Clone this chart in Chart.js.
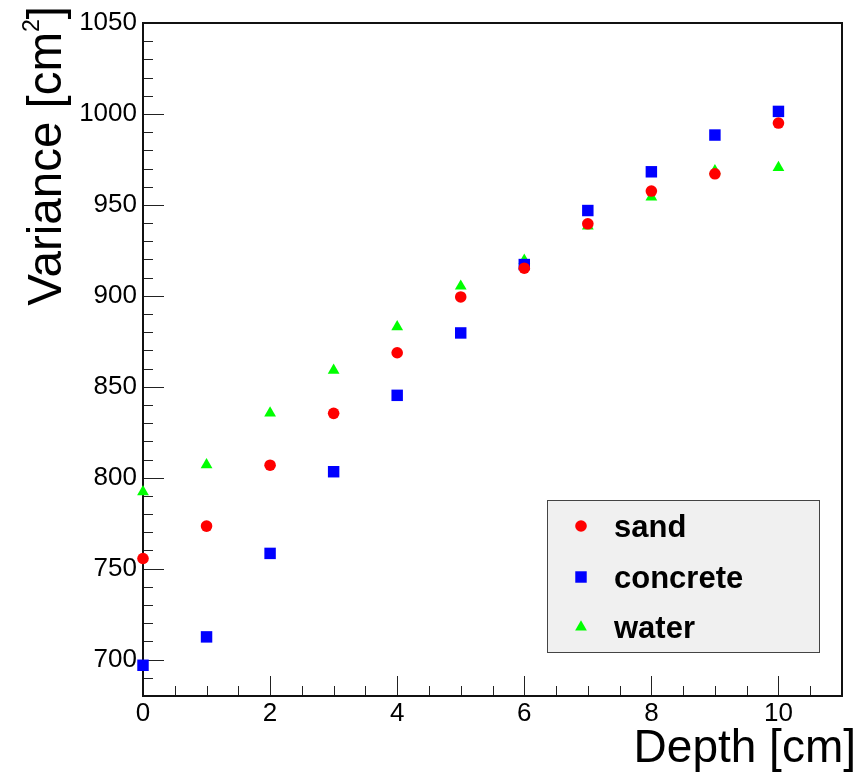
<!DOCTYPE html>
<html>
<head>
<meta charset="utf-8">
<script src="https://cdn.jsdelivr.net/npm/chart.js@4/dist/chart.umd.min.js"></script>
<style>
  body { margin: 0; background: #fff; }
  #wrap { width: 866px; height: 774px; position: relative; }
</style>
</head>
<body>
<div id="wrap"><canvas id="myChart"></canvas></div>
<script>
// values
var depth = [0, 1, 2, 3, 4, 5, 6, 7, 8, 9, 10];
var sand = [755.6, 773.4, 806.9, 835.4, 868.7, 899.4, 915.2, 939.6, 957.6, 967.1, 995.0];
var concrete = [696.9, 712.5, 758.4, 803.3, 845.3, 879.6, 917.2, 946.9, 968.2, 988.4, 1001.4];
var water = [792.3, 807.1, 835.5, 859.1, 883.0, 905.3, 919.5, 938.3, 954.3, 968.7, 970.5];

var series_names = ["sand", "concrete", "water"];
var x_ticks = [0, 2, 4, 6, 8, 10];
var y_ticks = [700, 750, 800, 850, 900, 950, 1000, 1050];

var FONT = "'Liberation Sans', Arial, Helvetica, sans-serif";

var styles = {
  sand: {color: '#ff0000', shape: 'circle', r: 5.8},
  concrete: {color: '#0000ff', shape: 'rect', r: 8.1},
  water: {color: '#00ff00', shape: 'triangle', r: 6.8}
};

function to_points(values) {
  return depth.map(function(d, i) { return {x: d, y: values[i]}; });
}

function make_dataset(name, values) {
  var s = styles[name];
  return {
    label: name,
    data: to_points(values),
    pointStyle: s.shape,
    pointRadius: s.r,
    pointHoverRadius: s.r,
    pointBackgroundColor: s.color,
    pointBorderColor: s.color,
    pointBorderWidth: 0,
    showLine: false,
    clip: false
  };
}

function draw_marker(ctx, shape, x, y, r, color) {
  ctx.fillStyle = color;
  ctx.beginPath();
  if(shape == 'circle') {
    ctx.arc(x, y, r, 0, Math.PI * 2);
  }
  else if(shape == 'rect') {
    var h = r * Math.SQRT1_2;
    ctx.rect(x - h, y - h, 2 * h, 2 * h);
  }
  else {
    ctx.moveTo(x, y - r);
    ctx.lineTo(x + r * Math.sin(Math.PI * 2 / 3), y + r / 2);
    ctx.lineTo(x - r * Math.sin(Math.PI * 2 / 3), y + r / 2);
    ctx.closePath();
  }
  ctx.fill();
}

// ROOT style frame with ticks pointing inward
var frame_plugin = {
  id: 'frame',
  beforeDatasetsDraw: function(chart) {
    var ctx = chart.ctx;
    var a = chart.chartArea;
    var xs = chart.scales.x;
    var ys = chart.scales.y;
    ctx.save();
    ctx.strokeStyle = '#222';
    ctx.lineWidth = 1;
    ctx.beginPath();
    for(var v = 690; v < 1050; v += 10) {
      var py = Math.round(ys.getPixelForValue(v)) + 0.5;
      var len = (v % 50 == 0) ? 21 : 10;
      ctx.moveTo(a.left, py);
      ctx.lineTo(a.left + len, py);
    }
    for(var u = 0.5; u < 11; u += 0.5) {
      var px = Math.round(xs.getPixelForValue(u)) + 0.5;
      var l = (u % 2 == 0) ? 20 : 10;
      ctx.moveTo(px, a.bottom);
      ctx.lineTo(px, a.bottom - l);
    }
    ctx.stroke();
    ctx.strokeStyle = '#111';
    ctx.lineWidth = 2;
    ctx.strokeRect(a.left, a.top, a.right - a.left, a.bottom - a.top);
    ctx.restore();
  },
  afterDraw: function(chart) {
    var ctx = chart.ctx;
    ctx.save();
    ctx.fillStyle = '#000';
    ctx.textBaseline = 'alphabetic';

    // x title
    ctx.font = '46px ' + FONT;
    ctx.textAlign = 'right';
    ctx.fillText('Depth [cm]', 856, 762);

    // y title with superscript
    var p1 = 'Variance [cm', p2 = '2', p3 = ']';
    ctx.font = '47.5px ' + FONT;
    var w1 = ctx.measureText(p1).width;
    var w3 = ctx.measureText(p3).width;
    ctx.font = '23px ' + FONT;
    var w2 = ctx.measureText(p2).width;
    var total = w1 + w2 + w3;
    ctx.translate(61, 6);
    ctx.rotate(-Math.PI / 2);
    ctx.textAlign = 'left';
    ctx.font = '47.5px ' + FONT;
    ctx.fillText(p1, -total, 0);
    ctx.font = '23px ' + FONT;
    ctx.fillText(p2, -total + w1, -22);
    ctx.font = '47.5px ' + FONT;
    ctx.fillText(p3, -total + w1 + w2, 0);
    ctx.setTransform(1, 0, 0, 1, 0, 0);

    // legend box
    ctx.fillStyle = '#f0f0f0';
    ctx.fillRect(547, 500, 272, 152);
    ctx.strokeStyle = '#444';
    ctx.lineWidth = 1;
    ctx.strokeRect(547.5, 500.5, 272, 152);
    var rows = [526, 577, 627];
    ctx.font = 'bold 31px ' + FONT;
    ctx.textAlign = 'left';
    for(var i = 0; i < series_names.length; i++) {
      var s = styles[series_names[i]];
      draw_marker(ctx, s.shape, 581, rows[i], s.r, s.color);
      ctx.fillStyle = '#000';
      ctx.fillText(series_names[i], 614, rows[i] + 11);
    }
    ctx.restore();
  }
};

function plain_label(value) {
  return String(value);
}

const config = {
  type: 'scatter',
  data: {
    datasets: [
      make_dataset('sand', sand),
      make_dataset('concrete', concrete),
      make_dataset('water', water)
    ]
  },
  options: {
    responsive: true,
    maintainAspectRatio: false,
    animation: false,
    events: [],
    layout: {padding: {left: 0, top: 23, right: 24, bottom: 0}},
    plugins: {
      legend: {display: false},
      tooltip: {enabled: false}
    },
    scales: {
      x: {
        type: 'linear',
        min: 0,
        max: 11,
        afterBuildTicks: function(scale) {
          scale.ticks = x_ticks.map(function(v) { return {value: v}; });
        },
        afterFit: function(scale) { scale.height = 78; },
        grid: {display: false, drawTicks: false},
        border: {display: false},
        ticks: {color: '#000', font: {family: FONT, size: 26}, padding: 2, maxRotation: 0, callback: plain_label}
      },
      y: {
        type: 'linear',
        min: 680,
        max: 1050,
        afterBuildTicks: function(scale) {
          scale.ticks = y_ticks.map(function(v) { return {value: v}; });
        },
        afterFit: function(scale) { scale.width = 143; },
        grid: {display: false, drawTicks: false},
        border: {display: false},
        ticks: {color: '#000', font: {family: FONT, size: 26}, padding: 6, callback: plain_label}
      }
    }
  },
  plugins: [frame_plugin]
};

var myChart = new Chart(document.getElementById('myChart'), config);
</script>
</body>
</html>
